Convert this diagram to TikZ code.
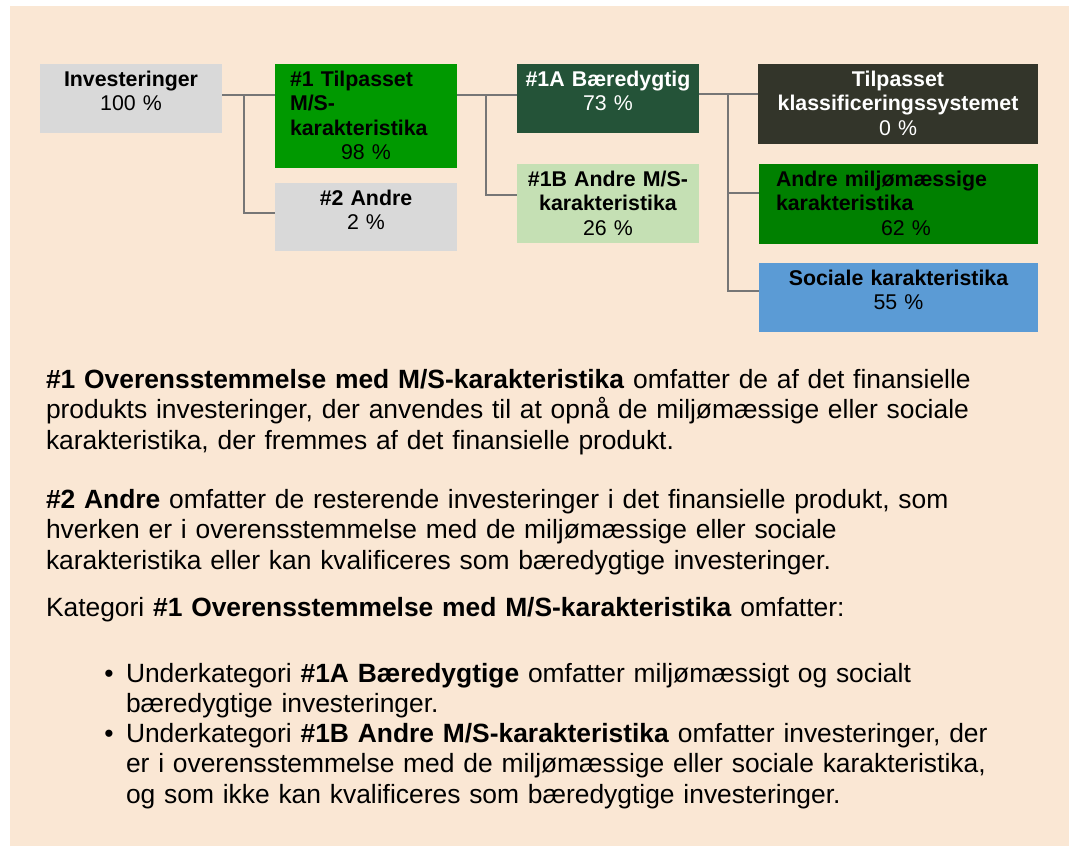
\documentclass[tikz,border=0pt]{standalone}
\usepackage{fontspec}
\setmainfont{Liberation Sans}
\usetikzlibrary{fit}
\definecolor{beige}{RGB}{250,231,212}
\definecolor{boxgray}{RGB}{217,217,217}
\definecolor{greenA}{RGB}{0,153,0}
\definecolor{darkgreen}{RGB}{36,83,56}
\definecolor{lightgreen}{RGB}{197,224,180}
\definecolor{darkolive}{RGB}{51,53,42}
\definecolor{midgreen}{RGB}{0,128,0}
\definecolor{socblue}{RGB}{91,155,213}
\definecolor{conncol}{RGB}{118,118,118}
\tikzset{
  boxshape/.style={inner sep=0pt, outer sep=0pt, draw=none},
  boxtext/.style={font=\fontsize{16pt}{18.4pt}\selectfont, inner sep=0pt, outer sep=0pt, align=center, anchor=base},
  bodytext/.style={font=\fontsize{19.8pt}{22.9pt}\selectfont, inner sep=0pt, outer sep=0pt, align=left, anchor=base west, text width=770pt},
  conn/.style={draw=conncol, line width=1.6pt},
}
\begin{document}
\begin{tikzpicture}[x=0.75pt, y=-0.75pt]
\useasboundingbox (0,0) rectangle (1069,846);
\fill[white] (0,0) rectangle (1069,846);
\fill[beige] (10,6) rectangle (1069,846);

% boxes
\node[boxshape, fill=boxgray,    fit={(40,64) (222,133)}]   (inv) {};
\node[boxshape, fill=greenA,     fit={(275,64) (457,168)}]  (t1) {};
\node[boxshape, fill=boxgray,    fit={(275,183) (457,251)}] (an) {};
\node[boxshape, fill=darkgreen,  fit={(517,64) (699,133)}]  (ba) {};
\node[boxshape, fill=lightgreen, fit={(517,164) (699,243)}] (bb) {};
\node[boxshape, fill=darkolive,  fit={(758,64) (1038,144)}] (tk) {};
\node[boxshape, fill=midgreen,   fit={(759,164) (1038,244)}] (am) {};
\node[boxshape, fill=socblue,    fit={(759,263) (1038,332)}] (so) {};

% box texts
\node[boxtext, text width=170*0.75pt] (inv-t) at ([yshift=-16.5pt]inv.north) {{\bfseries Investeringer}\\100 \%};
\node[boxtext, anchor=base west, align=left, text width=152*0.75pt] (t1-t) at (290,86) {\bfseries \#1 Tilpasset\\M/S-\\karakteristika\\\mdseries\makebox[\linewidth]{98 \%}};
\node[boxtext, text width=170*0.75pt] (an-t) at ([yshift=-16.5pt]an.north) {{\bfseries \#2 Andre}\\2 \%};
\node[boxtext, text width=176*0.75pt, text=white] (ba-t) at ([yshift=-16.5pt]ba.north) {{\bfseries \#1A Bæredygtig}\\73 \%};
\node[boxtext, text width=176*0.75pt] (bb-t) at ([yshift=-16.5pt]bb.north) {{\bfseries \#1B Andre M/S-\\karakteristika}\\26 \%};
\node[boxtext, text width=270*0.75pt, text=white] (tk-t) at ([yshift=-16.5pt]tk.north) {{\bfseries Tilpasset\\klassificeringssystemet}\\0 \%};
\node[boxtext, anchor=base west, align=left, text width=260*0.75pt] (am-t) at (776,186) {\bfseries Andre miljømæssige\\karakteristika\\\mdseries\makebox[\linewidth]{62 \%}};
\node[boxtext, text width=270*0.75pt] (so-t) at ([yshift=-16.5pt]so.north) {{\bfseries Sociale karakteristika}\\55 \%};

% connectors
\coordinate (j1) at (244,95);
\coordinate (y1) at (0,213);
\draw[conn] (inv.east |- j1) -- (t1.west |- j1);
\draw[conn] (j1) -- (j1 |- y1) -- (an.west |- y1);

\coordinate (j2) at (486,95);
\coordinate (y2) at (0,195);
\draw[conn] (t1.east |- j2) -- (ba.west |- j2);
\draw[conn] (j2) -- (j2 |- y2) -- (bb.west |- y2);

\coordinate (j3) at (728,94);
\coordinate (y3) at (0,193);
\coordinate (y4) at (0,291);
\draw[conn] (ba.east |- j3) -- (tk.west |- j3);
\draw[conn] (j3) -- (j3 |- y4) -- (so.west |- y4);
\draw[conn] (j3 |- y3) -- (am.west |- y3);

% body text
\node[bodytext] (p1) at (46,388) {\textbf{\#1 Overensstemmelse med M/S-karakteristika} omfatter de af det finansielle\\produkts investeringer, der anvendes til at opnå de miljømæssige eller sociale\\karakteristika, der fremmes af det finansielle produkt.};
\node[bodytext] (p2) at (46,508) {\textbf{\#2 Andre} omfatter de resterende investeringer i det finansielle produkt, som\\hverken er i overensstemmelse med de miljømæssige eller sociale\\karakteristika eller kan kvalificeres som bæredygtige investeringer.};
\node[bodytext] (p3) at (46,616) {Kategori \textbf{\#1 Overensstemmelse med M/S-karakteristika} omfatter:};
\node[bodytext, anchor=base, text width=] (b1) at (109,682) {\textbullet};
\node[bodytext, text width=700pt] (p4) at (126,682) {Underkategori \textbf{\#1A Bæredygtige} omfatter miljømæssigt og socialt\\bæredygtige investeringer.};
\node[bodytext, anchor=base, text width=] (b2) at (109,742) {\textbullet};
\node[bodytext, text width=700pt] (p5) at (126,742) {Underkategori \textbf{\#1B Andre M/S-karakteristika} omfatter investeringer, der\\er i overensstemmelse med de miljømæssige eller sociale karakteristika,\\og som ikke kan kvalificeres som bæredygtige investeringer.};
\end{tikzpicture}
\end{document}
